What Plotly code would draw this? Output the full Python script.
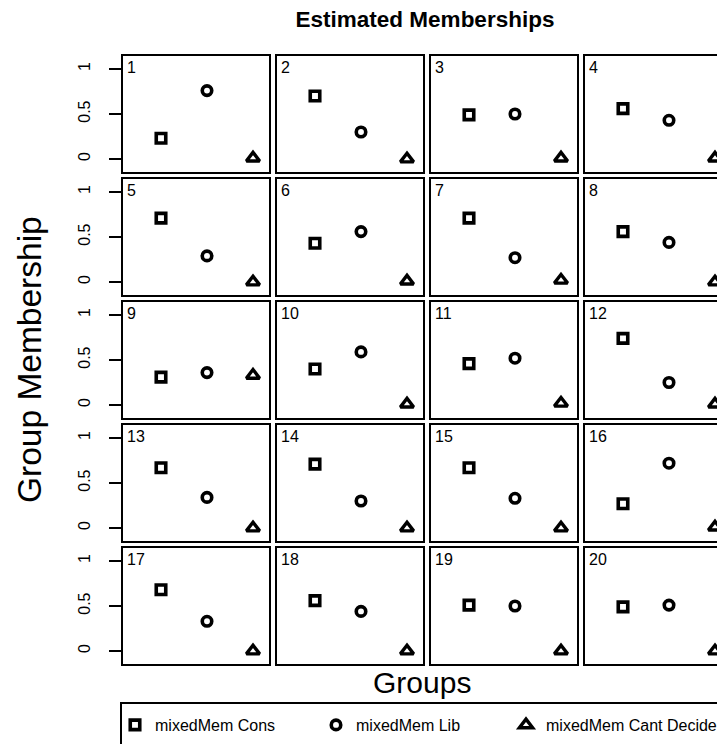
import plotly.graph_objects as go

# ---- data ----
panel_labels = [str(i) for i in range(1, 21)]
groups = [1, 2, 3]
series_names = ["mixedMem Cons", "mixedMem Lib", "mixedMem Cant Decide"]
cons = [0.23, 0.70, 0.49, 0.56, 0.71, 0.43, 0.71, 0.56, 0.31, 0.40,
        0.46, 0.74, 0.67, 0.71, 0.67, 0.27, 0.68, 0.56, 0.51, 0.49]
lib = [0.76, 0.30, 0.50, 0.43, 0.29, 0.56, 0.27, 0.44, 0.36, 0.59,
       0.52, 0.25, 0.34, 0.30, 0.33, 0.72, 0.33, 0.44, 0.50, 0.51]
cant = [0.01, 0.00, 0.01, 0.01, 0.00, 0.01, 0.02, 0.00, 0.33, 0.01,
        0.02, 0.01, 0.00, 0.00, 0.00, 0.01, 0.00, 0.00, 0.00, 0.00]
y_tick_vals = [0, 0.5, 1]
y_tick_text = ["0", "0.5", "1"]

# page is 725x744; the html body has an 8px margin, so the figure is
# placed at (8, 8) and made 8px smaller in each direction.
PAGE_W, PAGE_H = 725, 744
OFF = 8
W, H = PAGE_W - OFF, PAGE_H - OFF
FONT = "Liberation Sans, Arial, Helvetica, sans-serif"
NCOL, NROW = 4, 5


def fx(p):  # page x pixel -> paper fraction
    return (p - OFF) / W


def fy(p):  # page y pixel -> paper fraction
    return 1 - (p - OFF) / H


fig = go.Figure()

col_left0, col_step, col_w = 123, 154, 146
row_top0, row_step, row_h = 56, 123, 116
px_per_x = 46.0
x_left_pad = 38.0
px_per_y = 90.0
y_pad = 13.0

symbols = ["square-open", "circle-open", "triangle-up-open"]
sizes = [9.5, 9.5, 11.5]
line_w = [3.6, 3.6, 3.4]
values = [cons, lib, cant]
legend_ids = ["legend", "legend2", "legend3"]
legend_x = [115, 316, 506]   # page px of each legend entry's left edge

layout_axes = {}
annotations = []
for k in range(20):
    r, c = divmod(k, NCOL)
    idx = k + 1
    xname = "x" if idx == 1 else f"x{idx}"
    yname = "y" if idx == 1 else f"y{idx}"
    xl = col_left0 + c * col_step
    xr = min(xl + col_w, PAGE_W)
    yt = row_top0 + r * row_step
    yb = yt + row_h
    x0 = 1 - x_left_pad / px_per_x
    x1 = x0 + (xr - xl) / px_per_x
    y0 = -y_pad / px_per_y
    y1 = y0 + row_h / px_per_y
    xa = dict(domain=[fx(xl), fx(xr)], range=[x0, x1], showgrid=False,
              zeroline=False, showticklabels=False, ticks="",
              showline=True, mirror=True, linecolor="black", linewidth=2,
              anchor=yname, automargin=False, fixedrange=True)
    ya = dict(domain=[fy(yb), fy(yt)], range=[y0, y1], showgrid=False,
              zeroline=False, showline=True, mirror=(c < NCOL - 1),
              linecolor="black", linewidth=2, anchor=xname,
              automargin=False, fixedrange=True)
    if c == 0:
        ya.update(tickmode="array", tickvals=y_tick_vals, ticktext=y_tick_text,
                  ticks="outside", ticklen=12, tickwidth=1.5, tickcolor="black",
                  tickangle=-90, tickfont=dict(family=FONT, size=16, color="black"),
                  showticklabels=True, ticklabelstandoff=13)
    else:
        ya.update(showticklabels=False, ticks="")
    layout_axes["xaxis" if idx == 1 else f"xaxis{idx}"] = xa
    layout_axes["yaxis" if idx == 1 else f"yaxis{idx}"] = ya

    for s in range(3):
        fig.add_trace(go.Scatter(
            x=[groups[s]], y=[values[s][k]], mode="markers",
            xaxis=xname, yaxis=yname, name=series_names[s],
            legend=legend_ids[s], legendgroup=series_names[s],
            showlegend=(k == 0),
            marker=dict(symbol=symbols[s], size=sizes[s], color="black",
                        line=dict(color="black", width=line_w[s])),
            cliponaxis=False, hoverinfo="skip"))

    annotations.append(dict(text=panel_labels[k], xref="paper", yref="paper",
                            x=fx(xl + 2), y=fy(yt + 1),
                            xanchor="left", yanchor="top", showarrow=False,
                            font=dict(family=FONT, size=16, color="black")))

annotations.append(dict(text="Groups", xref="paper", yref="paper",
                        x=fx(422), y=fy(682), xanchor="center", yanchor="middle",
                        showarrow=False, font=dict(family=FONT, size=30, color="black")))
annotations.append(dict(text="Group Membership", xref="paper", yref="paper",
                        x=fx(29), y=fy(360), xanchor="center", yanchor="middle",
                        textangle=-90, showarrow=False,
                        font=dict(family=FONT, size=33.5, color="black")))

shapes = [dict(type="rect", xref="paper", yref="paper",
               x0=fx(121), x1=1.05, y0=fy(703), y1=-0.1,
               line=dict(color="black", width=2), fillcolor="rgba(0,0,0,0)")]

legends = {}
for s, lid in enumerate(legend_ids):
    legends[lid] = dict(orientation="h", x=fx(legend_x[s]), y=fy(708),
                        xanchor="left", yanchor="top",
                        bgcolor="rgba(0,0,0,0)", borderwidth=0,
                        font=dict(family=FONT, size=16, color="black"),
                        itemclick=False, itemdoubleclick=False)

fig.update_layout(
    width=W, height=H,
    margin=dict(l=0, r=0, t=0, b=0, autoexpand=False),
    paper_bgcolor="white", plot_bgcolor="white",
    title=dict(text="<b>Estimated Memberships</b>", x=fx(425), xanchor="center",
               y=fy(19), yanchor="middle",
               font=dict(family=FONT, size=22.5, color="black")),
    showlegend=True,
    annotations=annotations,
    shapes=shapes,
    **legends,
    **layout_axes,
)

fig.write_html("out.html")
